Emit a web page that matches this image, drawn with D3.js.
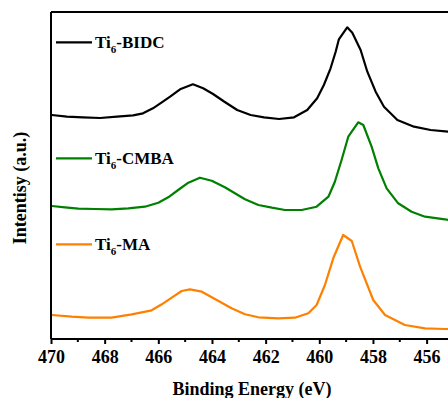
<!DOCTYPE html>
<html>
<head>
<meta charset="utf-8">
<script src="https://cdn.jsdelivr.net/npm/d3@7"></script>
<style>
  html, body { margin: 0; padding: 0; background: #fff; overflow: hidden; }
  svg { display: block; }
  text { font-family: "Liberation Serif", "Times New Roman", serif; font-weight: bold; fill: #000; }
</style>
</head>
<body>
<svg id="chart" width="448" height="398"></svg>
<script>
// Binding energy (eV) and intensity (a.u.)
const bidcEnergy = [469.97,469.41,468.81,468.17,467.54,466.94,466.57,466.20,465.83,465.56,465.19,464.71,464.33,463.96,463.55,463.06,462.56,462.06,461.50,460.94,460.45,460.08,459.83,459.58,459.39,459.27,458.96,458.77,458.46,458.21,457.90,457.59,457.09,456.47,455.85,455.20];
const bidcIntensity = [224,222.3,221.7,221,222.3,223.7,225.7,230.7,237.3,242.3,249.7,254.7,250.7,245,237.5,229,224,221.7,220,221.7,229,240.7,254,270.7,287.3,299.7,311.7,306.3,289,267.3,247.3,232.3,219,212.3,209,207.3];

const cmbaEnergy = [469.97,469.48,468.98,468.36,467.74,467.12,466.50,466.00,465.63,465.26,464.88,464.45,464.01,463.52,462.77,462.27,461.77,461.28,460.66,460.10,459.66,459.42,459.17,458.92,458.55,458.36,458.05,457.80,457.49,457.06,456.56,456.06,455.32,455.20];
const cmbaIntensity = [133,131.7,130.3,130,129.7,130.7,132.3,136.3,141.7,149,156.3,161.3,158.3,151.7,139.7,134,131.3,129,129,132.3,142.3,157.3,179,202.3,216.7,214,192.3,170.7,150.7,135.7,127.3,122.3,119.7,119];

const maEnergy = [469.97,469.23,468.61,467.74,466.99,466.25,465.87,465.50,465.13,464.82,464.38,463.89,463.27,462.77,462.27,461.53,460.91,460.41,460.10,459.79,459.48,459.11,458.79,458.48,457.99,457.55,456.81,456.06,455.32,455.20];
const maIntensity = [24,22.3,21.3,21.3,24.7,28.7,34.7,41.3,48,49.7,47.3,40,30.7,24.7,21.7,20.7,21.3,25.7,34,54,80.7,104,98,72.3,39,24,14,10.7,10,10];

const seriesNames = ["BIDC", "CMBA", "MA"];
const seriesColors = ["#000000", "#008000", "#ff8000"];
const xTickValues = [470, 468, 466, 464, 462, 460, 458, 456];
const xMinorTicks = [469, 467, 465, 463, 461, 459, 457, 455];
const xTitle = "Binding Energy (eV)";
const yTitle = "Intentisy (a.u.)";

const series = [
  { name: seriesNames[0], color: seriesColors[0], e: bidcEnergy, v: bidcIntensity },
  { name: seriesNames[1], color: seriesColors[1], e: cmbaEnergy, v: cmbaIntensity },
  { name: seriesNames[2], color: seriesColors[2], e: maEnergy, v: maIntensity }
];

const svg = d3.select("#chart");
const mLeft = 51, mTop = 12, mBottom = 339;
const pxPerEv = 26.83;
const x = d3.scaleLinear().domain([470, 455]).range([mLeft, mLeft + 15 * pxPerEv]);
const y = d3.scaleLinear().domain([0, 327]).range([mBottom, mTop]);

const line = d3.line().x(d => x(d[0])).y(d => y(d[1]));

const plot = svg.append("g");
series.forEach(s => {
  const pts = s.e.map((e, i) => [e, s.v[i]]);
  plot.append("path")
    .attr("d", line(pts))
    .attr("fill", "none")
    .attr("stroke", s.color)
    .attr("stroke-width", 2.2)
    .attr("stroke-linejoin", "round");
});

// Frame: top and left lines
svg.append("line").attr("x1", mLeft).attr("x2", 460).attr("y1", mTop).attr("y2", mTop)
  .attr("stroke", "#000").attr("stroke-width", 2);
svg.append("line").attr("x1", mLeft).attr("x2", mLeft).attr("y1", mTop).attr("y2", mBottom)
  .attr("stroke", "#000").attr("stroke-width", 2);

// Bottom axis
const xAxis = d3.axisBottom(x).tickValues(xTickValues).tickSize(5).tickPadding(6).tickFormat(d3.format("d"));
const gx = svg.append("g").attr("transform", `translate(0,${mBottom})`).call(xAxis);
gx.select(".domain").attr("stroke-width", 2).attr("d", `M${mLeft},0H${mLeft + 15 * pxPerEv}`);
gx.selectAll(".tick line").attr("stroke-width", 2);
gx.selectAll(".tick text")
  .attr("font-family", "'Liberation Serif', 'Times New Roman', serif")
  .attr("font-weight", "bold").attr("font-size", 18).attr("fill", "#000");
const minor = svg.append("g").attr("transform", `translate(0,${mBottom})`);
minor.selectAll("line").data(xMinorTicks).join("line")
  .attr("x1", d => x(d)).attr("x2", d => x(d)).attr("y1", 0).attr("y2", 3)
  .attr("stroke", "#000").attr("stroke-width", 2);

// Axis titles
svg.append("text").attr("x", 252).attr("y", 395).attr("text-anchor", "middle")
  .attr("font-size", 18).text(xTitle);
svg.append("text").attr("transform", "translate(26,188) rotate(-90)")
  .attr("text-anchor", "middle").attr("font-size", 18).text(yTitle);

// Legends
const legendY = [42.3, 158.3, 244.3];
series.forEach((s, i) => {
  const ly = legendY[i];
  svg.append("line").attr("x1", 56).attr("x2", 92).attr("y1", ly).attr("y2", ly)
    .attr("stroke", s.color).attr("stroke-width", 2.2);
  const t = svg.append("text").attr("x", 95).attr("y", ly + 6).attr("font-size", 17);
  t.append("tspan").text("Ti");
  t.append("tspan").attr("font-size", 11).attr("dy", 5).text("6");
  t.append("tspan").attr("dy", -5).text("-" + s.name);
});
</script>
</body>
</html>
